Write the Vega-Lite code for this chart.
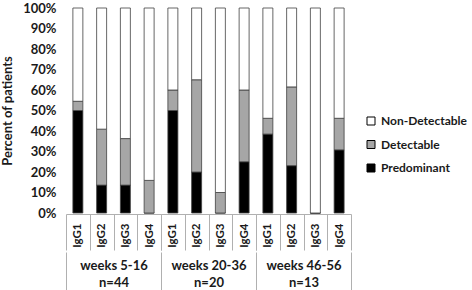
{
  "$schema": "https://vega.github.io/schema/vega-lite/v6.json",
  "padding": {"top": 2, "left": 1, "right": 0, "bottom": 0},
  "background": "white",
  "spacing": 0,
  "data": {
    "values": [
      {"group": "weeks 5-16|n=44", "igg": "IgG1", "category": "Predominant", "level": 1, "value": 0.5},
      {"group": "weeks 5-16|n=44", "igg": "IgG1", "category": "Detectable", "level": 2, "value": 0.045},
      {"group": "weeks 5-16|n=44", "igg": "IgG1", "category": "Non-Detectable", "level": 3, "value": 0.455},
      {"group": "weeks 5-16|n=44", "igg": "IgG2", "category": "Predominant", "level": 1, "value": 0.136},
      {"group": "weeks 5-16|n=44", "igg": "IgG2", "category": "Detectable", "level": 2, "value": 0.273},
      {"group": "weeks 5-16|n=44", "igg": "IgG2", "category": "Non-Detectable", "level": 3, "value": 0.591},
      {"group": "weeks 5-16|n=44", "igg": "IgG3", "category": "Predominant", "level": 1, "value": 0.136},
      {"group": "weeks 5-16|n=44", "igg": "IgG3", "category": "Detectable", "level": 2, "value": 0.227},
      {"group": "weeks 5-16|n=44", "igg": "IgG3", "category": "Non-Detectable", "level": 3, "value": 0.637},
      {"group": "weeks 5-16|n=44", "igg": "IgG4", "category": "Predominant", "level": 1, "value": 0},
      {"group": "weeks 5-16|n=44", "igg": "IgG4", "category": "Detectable", "level": 2, "value": 0.159},
      {"group": "weeks 5-16|n=44", "igg": "IgG4", "category": "Non-Detectable", "level": 3, "value": 0.841},
      {"group": "weeks 20-36|n=20", "igg": "IgG1", "category": "Predominant", "level": 1, "value": 0.5},
      {"group": "weeks 20-36|n=20", "igg": "IgG1", "category": "Detectable", "level": 2, "value": 0.1},
      {"group": "weeks 20-36|n=20", "igg": "IgG1", "category": "Non-Detectable", "level": 3, "value": 0.4},
      {"group": "weeks 20-36|n=20", "igg": "IgG2", "category": "Predominant", "level": 1, "value": 0.2},
      {"group": "weeks 20-36|n=20", "igg": "IgG2", "category": "Detectable", "level": 2, "value": 0.45},
      {"group": "weeks 20-36|n=20", "igg": "IgG2", "category": "Non-Detectable", "level": 3, "value": 0.35},
      {"group": "weeks 20-36|n=20", "igg": "IgG3", "category": "Predominant", "level": 1, "value": 0},
      {"group": "weeks 20-36|n=20", "igg": "IgG3", "category": "Detectable", "level": 2, "value": 0.1},
      {"group": "weeks 20-36|n=20", "igg": "IgG3", "category": "Non-Detectable", "level": 3, "value": 0.9},
      {"group": "weeks 20-36|n=20", "igg": "IgG4", "category": "Predominant", "level": 1, "value": 0.25},
      {"group": "weeks 20-36|n=20", "igg": "IgG4", "category": "Detectable", "level": 2, "value": 0.35},
      {"group": "weeks 20-36|n=20", "igg": "IgG4", "category": "Non-Detectable", "level": 3, "value": 0.4},
      {"group": "weeks 46-56|n=13", "igg": "IgG1", "category": "Predominant", "level": 1, "value": 0.385},
      {"group": "weeks 46-56|n=13", "igg": "IgG1", "category": "Detectable", "level": 2, "value": 0.077},
      {"group": "weeks 46-56|n=13", "igg": "IgG1", "category": "Non-Detectable", "level": 3, "value": 0.538},
      {"group": "weeks 46-56|n=13", "igg": "IgG2", "category": "Predominant", "level": 1, "value": 0.231},
      {"group": "weeks 46-56|n=13", "igg": "IgG2", "category": "Detectable", "level": 2, "value": 0.384},
      {"group": "weeks 46-56|n=13", "igg": "IgG2", "category": "Non-Detectable", "level": 3, "value": 0.385},
      {"group": "weeks 46-56|n=13", "igg": "IgG3", "category": "Predominant", "level": 1, "value": 0},
      {"group": "weeks 46-56|n=13", "igg": "IgG3", "category": "Detectable", "level": 2, "value": 0},
      {"group": "weeks 46-56|n=13", "igg": "IgG3", "category": "Non-Detectable", "level": 3, "value": 1},
      {"group": "weeks 46-56|n=13", "igg": "IgG4", "category": "Predominant", "level": 1, "value": 0.308},
      {"group": "weeks 46-56|n=13", "igg": "IgG4", "category": "Detectable", "level": 2, "value": 0.154},
      {"group": "weeks 46-56|n=13", "igg": "IgG4", "category": "Non-Detectable", "level": 3, "value": 0.538}
    ]
  },
  "vconcat": [
    {
      "facet": {
        "column": {
          "field": "group",
          "type": "nominal",
          "sort": ["weeks 5-16|n=44", "weeks 20-36|n=20", "weeks 46-56|n=13"],
          "header": {"title": null, "labels": false}
        }
      },
      "spacing": 0,
      "spec": {
        "width": 95,
        "height": 205,
        "mark": {"type": "bar", "width": {"band": 0.42}, "stroke": "#404040", "strokeWidth": 0.8},
        "encoding": {
          "x": {
            "field": "igg",
            "type": "nominal",
            "scale": {"paddingInner": 0, "paddingOuter": 0},
            "axis": {
              "title": null,
              "labelAngle": -90,
              "labelFont": "Lato",
              "labelFontSize": 11.5,
              "labelFontWeight": "bold",
              "labelColor": "#1a1a1a",
              "labelPadding": -27,
              "labelOverlap": false,
              "labelBound": false,
              "tickBand": "extent",
              "tickColor": "#b0b0b0",
              "domainColor": "#b0b0b0",
              "tickSize": 36
            }
          },
          "y": {
            "field": "value",
            "type": "quantitative",
            "stack": "zero",
            "scale": {"domain": [0, 1]},
            "axis": {
              "title": "Percent of patients",
              "format": ".0%",
              "tickCount": 10,
              "domain": false,
              "ticks": false,
              "grid": false,
              "labelFont": "Lato",
              "labelFontSize": 13,
              "labelFontWeight": "bold",
              "labelColor": "#1a1a1a",
              "labelPadding": 10,
              "titleFont": "Lato",
              "titleFontSize": 13,
              "titleFontWeight": "bold",
              "titleColor": "#1a1a1a",
              "titlePadding": 8
            }
          },
          "color": {
            "field": "category",
            "type": "nominal",
            "scale": {"domain": ["Non-Detectable", "Detectable", "Predominant"], "range": ["#ffffff", "#a6a6a6", "#000000"]},
            "legend": {
              "title": null,
              "orient": "none",
              "legendX": 299,
              "legendY": 107,
              "padding": 0,
              "symbolType": "square",
              "symbolSize": 64,
              "symbolStrokeColor": "#000000",
              "symbolStrokeWidth": 1,
              "labelFont": "Lato",
              "labelFontSize": 12,
              "labelFontWeight": "bold",
              "labelColor": "#1a1a1a",
              "labelOffset": 4,
              "labelLimit": 200,
              "rowPadding": 11.5
            }
          },
          "order": {"field": "level", "type": "quantitative", "sort": "ascending"}
        }
      }
    },
    {
      "width": 285,
      "height": 1,
      "mark": {"type": "rule", "opacity": 0},
      "encoding": {
        "x": {
          "field": "group",
          "type": "nominal",
          "sort": ["weeks 5-16|n=44", "weeks 20-36|n=20", "weeks 46-56|n=13"],
          "scale": {"paddingInner": 0, "paddingOuter": 0},
          "axis": {
            "title": null,
            "domain": false,
            "labelAngle": 0,
            "labelExpr": "datum.value ? split(datum.value, '|') : ''",
            "labelFont": "Lato",
            "labelFontSize": 13,
            "labelFontWeight": "bold",
            "labelColor": "#1a1a1a",
            "labelLineHeight": 17,
            "labelBaseline": "top",
            "labelPadding": -34,
            "labelOverlap": false,
            "labelBound": false,
            "tickBand": "extent",
            "tickColor": "#b0b0b0",
            "tickSize": 41
          }
        }
      }
    }
  ],
  "config": {"view": {"stroke": null}, "axis": {"grid": false}}
}
